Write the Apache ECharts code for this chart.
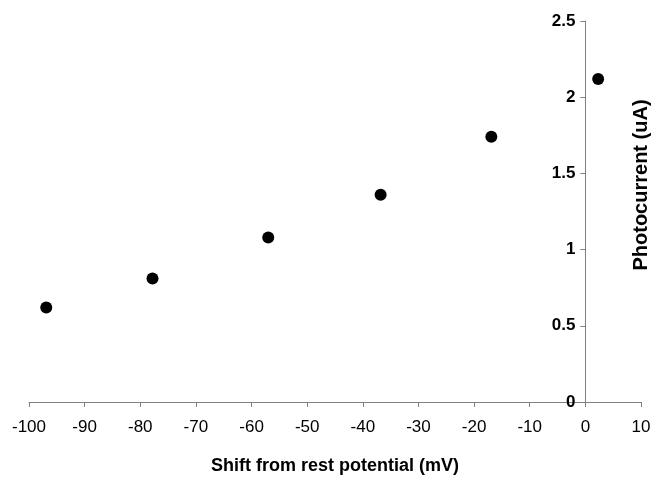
<!DOCTYPE html>
<html>
<head>
<meta charset="utf-8">
<script src="https://cdn.jsdelivr.net/npm/echarts@6/dist/echarts.min.js"></script>
<style>
html,body{margin:0;padding:0;background:#fff;}
#chart{width:652px;height:479px;}
</style>
</head>
<body>
<div id="chart"></div>
<script>
const shiftMv = [-96.9, -77.8, -57.0, -36.8, -16.9, 2.3];
const photocurrent = [0.62, 0.81, 1.08, 1.36, 1.74, 2.12];
const xTitle = 'Shift from rest potential (mV)';
const yTitle = 'Photocurrent (uA)';
const xMin = -100, xMax = 10, xStep = 10;
const yMin = 0, yMax = 2.5, yStep = 0.5;

const gridLeft = 29, gridRight = 11, chartW = 652;
const gridW = chartW - gridLeft - gridRight;
// place the y axis at x = 0
const yAxisOffset = -gridW * (0 - xMin) / (xMax - xMin);

const chart = echarts.init(document.getElementById('chart'), null, {renderer: 'canvas'});
const font = 'Liberation Sans, Arial, sans-serif';
chart.setOption({
  animation: false,
  backgroundColor: '#fff',
  grid: {left: gridLeft, right: gridRight, top: 21, bottom: 77, containLabel: false, outerBoundsMode: 'none'},
  xAxis: {
    type: 'value', min: xMin, max: xMax, interval: xStep,
    axisLine: {show: true, onZero: false, lineStyle: {color: '#808080', width: 1}},
    axisTick: {show: true, length: 5, inside: false, lineStyle: {color: '#808080'}},
    axisLabel: {color: '#000', fontFamily: font, fontSize: 17, margin: 17},
    splitLine: {show: false},
    name: xTitle, nameLocation: 'middle', nameGap: 55,
    nameTextStyle: {color: '#000', fontFamily: font, fontSize: 18, fontWeight: 'bold'}
  },
  yAxis: {
    type: 'value', min: yMin, max: yMax, interval: yStep,
    position: 'left', offset: yAxisOffset,
    axisLine: {show: true, onZero: false, lineStyle: {color: '#808080', width: 1}},
    axisTick: {show: true, length: 5, inside: false, lineStyle: {color: '#808080'}},
    axisLabel: {color: '#000', fontFamily: font, fontSize: 17, fontWeight: 'bold', margin: 10},
    splitLine: {show: false}
  },
  graphic: [{
    type: 'text', x: 641, y: 185, rotation: Math.PI / 2,
    style: {text: yTitle, fill: '#000', font: 'bold 20px ' + font, textAlign: 'center', textVerticalAlign: 'middle'}
  }],
  series: [{
    type: 'scatter',
    symbol: 'circle', symbolSize: 12,
    itemStyle: {color: '#000', opacity: 1},
    data: shiftMv.map((x, i) => [x, photocurrent[i]])
  }]
});
</script>
</body>
</html>
